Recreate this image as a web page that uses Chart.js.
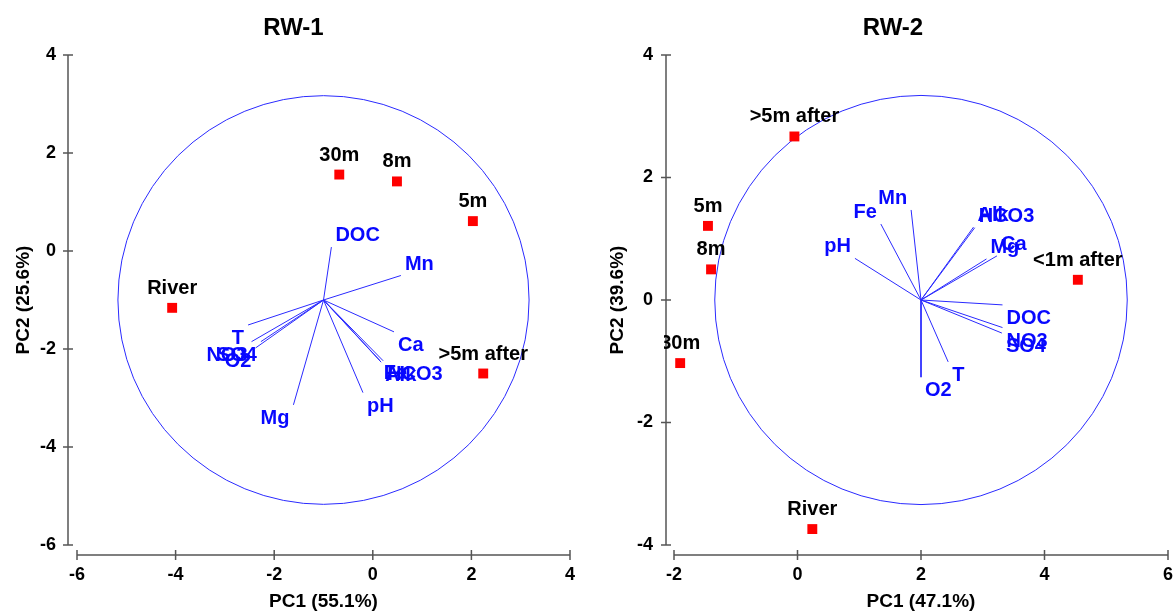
<!DOCTYPE html>
<html>
<head>
<meta charset="utf-8">
<script src="https://cdn.jsdelivr.net/npm/chart.js@4.4.1/dist/chart.umd.min.js"></script>
<style>
  html, body { margin: 0; padding: 0; background: #fff; }
  #wrap { position: relative; width: 1175px; height: 611px; overflow: hidden; }
  #left { position: absolute; left: 0; top: 0; }
  #right { position: absolute; left: 600px; top: 0; }
</style>
</head>
<body>
<div id="wrap">
  <canvas id="left" width="587" height="611"></canvas>
  <canvas id="right" width="575" height="611"></canvas>
</div>
<script>
// ---- RW-1 ----
const rw1Samples = ['30m', '8m', '5m', 'River', '>5m after'];
const rw1SampleX = [-0.68, 0.49, 2.03, -4.07, 2.24];
const rw1SampleY = [1.56, 1.42, 0.61, -1.16, -2.50];

const rw1Vars = ['DOC', 'Mn', 'Ca', 'Fe', 'Alk', 'HCO3', 'pH', 'Mg', 'T', 'SO4', 'NO3', 'O2'];
const rw1VarX = [-0.84, 0.57, 0.43, 0.14, 0.17, 0.21, -0.20, -1.61, -2.53, -2.27, -2.46, -2.38];
const rw1VarY = [0.08, -0.50, -1.65, -2.23, -2.27, -2.24, -2.89, -3.14, -1.51, -1.85, -1.85, -1.98];
const rw1Center = [-1, -1];
const rw1Radius = 4.17;

// ---- RW-2 ----
const rw2Samples = ['>5m after', '5m', '8m', '<1m after', '30m', 'River'];
const rw2SampleX = [-0.05, -1.45, -1.40, 4.54, -1.90, 0.24];
const rw2SampleY = [2.67, 1.21, 0.50, 0.33, -1.03, -3.74];

const rw2Vars = ['pH', 'Fe', 'Mn', 'Alk', 'HCO3', 'Mg', 'Ca', 'DOC', 'NO3', 'SO4', 'T', 'O2'];
const rw2VarX = [0.93, 1.35, 1.84, 2.85, 2.87, 3.06, 3.23, 3.32, 3.32, 3.31, 2.44, 2.00];
const rw2VarY = [0.68, 1.24, 1.47, 1.19, 1.18, 0.67, 0.72, -0.08, -0.45, -0.54, -1.01, -1.26];
const rw2Center = [2, 0];
const rw2Radius = 3.34;

const FONT = "'Liberation Sans', Arial, sans-serif";
const BLUE_LINE = '#2a2aff';
const BLUE_TEXT = '#0808ff';
const AXIS = '#555';

const biplotDecor = {
    id: 'biplotDecor',
    beforeDatasetsDraw(chart, args, o) {
        const {ctx, scales: {x, y}} = chart;
        // correlation circle
        const cx = x.getPixelForValue(o.center[0]);
        const cy = y.getPixelForValue(o.center[1]);
        const rx = x.getPixelForValue(o.center[0] + o.radius) - cx;
        const ry = cy - y.getPixelForValue(o.center[1] + o.radius);
        ctx.save();
        ctx.strokeStyle = BLUE_LINE;
        ctx.lineWidth = 1;
        ctx.beginPath();
        ctx.ellipse(cx, cy, rx, ry, 0, 0, Math.PI * 2);
        ctx.stroke();
        ctx.restore();
    },
    afterDraw(chart, args, o) {
        const {ctx, chartArea, scales: {x, y}} = chart;
        ctx.save();
        // detached axes
        ctx.strokeStyle = AXIS;
        ctx.lineWidth = 1.5;
        const ax = chartArea.left - o.yGap;
        const ay = chartArea.bottom + 10;
        ctx.beginPath();
        ctx.moveTo(ax, y.getPixelForValue(y.max));
        ctx.lineTo(ax, y.getPixelForValue(y.min));
        y.ticks.forEach(t => {
            const p = y.getPixelForValue(t.value);
            ctx.moveTo(ax - 5, p);
            ctx.lineTo(ax + 5, p);
        });
        ctx.moveTo(x.getPixelForValue(x.min), ay);
        ctx.lineTo(x.getPixelForValue(x.max), ay);
        x.ticks.forEach(t => {
            const p = x.getPixelForValue(t.value);
            ctx.moveTo(p, ay - 5);
            ctx.lineTo(p, ay + 5);
        });
        ctx.stroke();

        // variable labels
        const ox = x.getPixelForValue(o.center[0]);
        const oy = y.getPixelForValue(o.center[1]);
        ctx.font = 'bold 20px ' + FONT;
        ctx.fillStyle = BLUE_TEXT;
        ctx.textBaseline = 'alphabetic';
        o.vars.forEach((name, i) => {
            const px = x.getPixelForValue(o.varX[i]);
            const py = y.getPixelForValue(o.varY[i]);
            const right = px >= ox - 0.01;
            ctx.textAlign = right ? 'left' : 'right';
            ctx.fillText(name, right ? px + 4 : px - 4, py <= oy ? py - 6 : py + 19);
        });

        // sample labels
        ctx.beginPath();
        ctx.rect(chartArea.left - 10, 0, chart.width, chart.height);
        ctx.clip();
        ctx.fillStyle = '#000';
        ctx.textAlign = 'center';
        o.samples.forEach((name, i) => {
            ctx.fillText(name, x.getPixelForValue(o.sampleX[i]), y.getPixelForValue(o.sampleY[i]) - 14);
        });
        ctx.restore();
    }
};

function makeChart(id, cfg) {
    const datasets = [{
        label: 'samples',
        data: cfg.samples.map((n, i) => ({x: cfg.sampleX[i], y: cfg.sampleY[i]})),
        pointStyle: 'rect',
        pointRadius: 7,
        backgroundColor: '#ff0000',
        borderWidth: 0
    }];
    cfg.vars.forEach((n, i) => {
        datasets.push({
            label: n,
            data: [{x: cfg.center[0], y: cfg.center[1]}, {x: cfg.varX[i], y: cfg.varY[i]}],
            showLine: true,
            pointRadius: 0,
            borderColor: BLUE_LINE,
            borderWidth: 1
        });
    });

    const tickFont = {family: FONT, size: 18, weight: 'bold'};
    const titleFont = {family: FONT, size: 19, weight: 'bold', lineHeight: 1};

    return new Chart(document.getElementById(id), {
        type: 'scatter',
        data: {datasets: datasets},
        plugins: [biplotDecor],
        options: {
            responsive: false,
            animation: false,
            layout: {padding: cfg.padding},
            plugins: {
                legend: {display: false},
                tooltip: {enabled: false},
                title: {
                    display: true,
                    text: cfg.title,
                    color: '#000',
                    font: {family: FONT, size: 24, weight: 'bold'},
                    padding: {top: 13.6, bottom: 12.6}
                },
                biplotDecor: {
                    center: cfg.center, radius: cfg.radius,
                    vars: cfg.vars, varX: cfg.varX, varY: cfg.varY,
                    samples: cfg.samples, sampleX: cfg.sampleX, sampleY: cfg.sampleY,
                    yGap: cfg.yGap
                }
            },
            scales: {
                x: {
                    type: 'linear',
                    min: cfg.xRange[0], max: cfg.xRange[1],
                    grid: {display: false, drawTicks: false},
                    border: {display: false},
                    ticks: {stepSize: 2, color: '#000', font: tickFont, padding: 19},
                    title: {display: true, text: cfg.xTitle, color: '#000', font: titleFont, padding: {top: 0, bottom: 0}},
                    afterFit: s => { s.height = 66; s.paddingLeft = 0; s.paddingRight = 0; }
                },
                y: {
                    type: 'linear',
                    min: cfg.yRange[0], max: cfg.yRange[1],
                    grid: {display: false, drawTicks: false},
                    border: {display: false},
                    ticks: {stepSize: 2, color: '#000', font: tickFont, padding: 21},
                    title: {display: true, text: cfg.yTitle, color: '#000', font: titleFont, padding: {top: cfg.yTitlePad, bottom: 0}},
                    afterFit: s => { s.width = cfg.yWidth; }
                }
            }
        }
    });
}

makeChart('left', {
    title: 'RW-1', xTitle: 'PC1 (55.1%)', yTitle: 'PC2 (25.6%)',
    xRange: [-6, 4], yRange: [-6, 4],
    samples: rw1Samples, sampleX: rw1SampleX, sampleY: rw1SampleY,
    vars: rw1Vars, varX: rw1VarX, varY: rw1VarY,
    center: rw1Center, radius: rw1Radius,
    padding: {left: 17, right: 17, top: 0, bottom: 0},
    yWidth: 60, yTitlePad: -2.8, yGap: 9
});

makeChart('right', {
    title: 'RW-2', xTitle: 'PC1 (47.1%)', yTitle: 'PC2 (39.6%)',
    xRange: [-2, 6], yRange: [-4, 4],
    samples: rw2Samples, sampleX: rw2SampleX, sampleY: rw2SampleY,
    vars: rw2Vars, varX: rw2VarX, varY: rw2VarY,
    center: rw2Center, radius: rw2Radius,
    padding: {left: 18, right: 7, top: 0, bottom: 0},
    yWidth: 56, yTitlePad: -9.9, yGap: 8
});
</script>
</body>
</html>
